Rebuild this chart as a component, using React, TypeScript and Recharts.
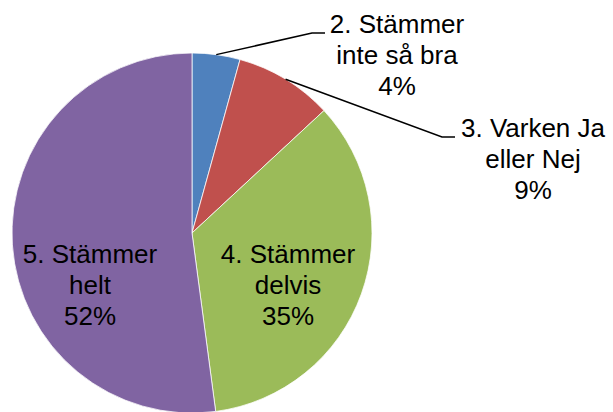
import { PieChart, Pie, Cell } from 'recharts';

const categories = ['2. Stämmer inte så bra', '3. Varken Ja eller Nej', '4. Stämmer delvis', '5. Stämmer helt'];
const labelLines = [
  ['2. Stämmer', 'inte så bra'],
  ['3. Varken Ja', 'eller Nej'],
  ['4. Stämmer', 'delvis'],
  ['5. Stämmer', 'helt'],
];
const values = [4.3, 8.8, 34.8, 52.1];
const colors = ['#4F81BD', '#C0504D', '#9BBB59', '#8064A2'];

// label block placement relative to pie center (x = block center, y = first baseline)
const labelLayout = [
  { dx: 205, dy: -200, outside: true, left: 136 },
  { dx: 341, dy: -96, outside: true, left: 266 },
  { dx: 96, dy: 30, outside: false, left: 0 },
  { dx: -102, dy: 30, outside: false, left: 0 },
];

const data = categories.map((name, i) => ({ name, value: values[i] }));

const RADIAN = Math.PI / 180;
const FONT = '"Liberation Sans", Arial, sans-serif';

function renderLabel(props: any) {
  const { cx, cy, midAngle, outerRadius, percent, index } = props;
  const lay = labelLayout[index];
  const x = cx + lay.dx;
  const y = cy + lay.dy;
  const lines = [...labelLines[index], `${Math.round(percent * 100)}%`];
  let leader = null;
  if (lay.outside) {
    const sx = cx + outerRadius * Math.cos(-midAngle * RADIAN);
    const sy = cy + outerRadius * Math.sin(-midAngle * RADIAN);
    const ex = cx + lay.left - 3;
    leader = (
      <polyline
        points={`${sx},${sy} ${ex - 13},${y} ${ex},${y}`}
        fill="none"
        stroke="#000"
        strokeWidth={1.5}
      />
    );
  }
  return (
    <g key={`lbl-${index}`}>
      {leader}
      <text x={x} y={y} textAnchor="middle" fill="#000" fontSize={26} fontFamily={FONT}>
        {lines.map((l, i) => (
          <tspan key={i} x={x} dy={i === 0 ? 0 : 31}>
            {l}
          </tspan>
        ))}
      </text>
    </g>
  );
}

export default function App() {
  return (
    <div style={{ position: 'absolute', left: 0, top: 0, width: 613, height: 412, background: '#fff' }}>
      <PieChart width={613} height={412} margin={{ top: 0, right: 0, bottom: 0, left: 0 }}>
        <Pie
          data={data}
          dataKey="value"
          nameKey="name"
          cx={192}
          cy={233}
          outerRadius={180}
          startAngle={90}
          endAngle={-270}
          stroke="#fff"
          strokeWidth={0.75}
          label={renderLabel}
          labelLine={false}
          isAnimationActive={false}
        >
          {data.map((d, i) => (
            <Cell key={d.name} fill={colors[i]} />
          ))}
        </Pie>
      </PieChart>
    </div>
  );
}
